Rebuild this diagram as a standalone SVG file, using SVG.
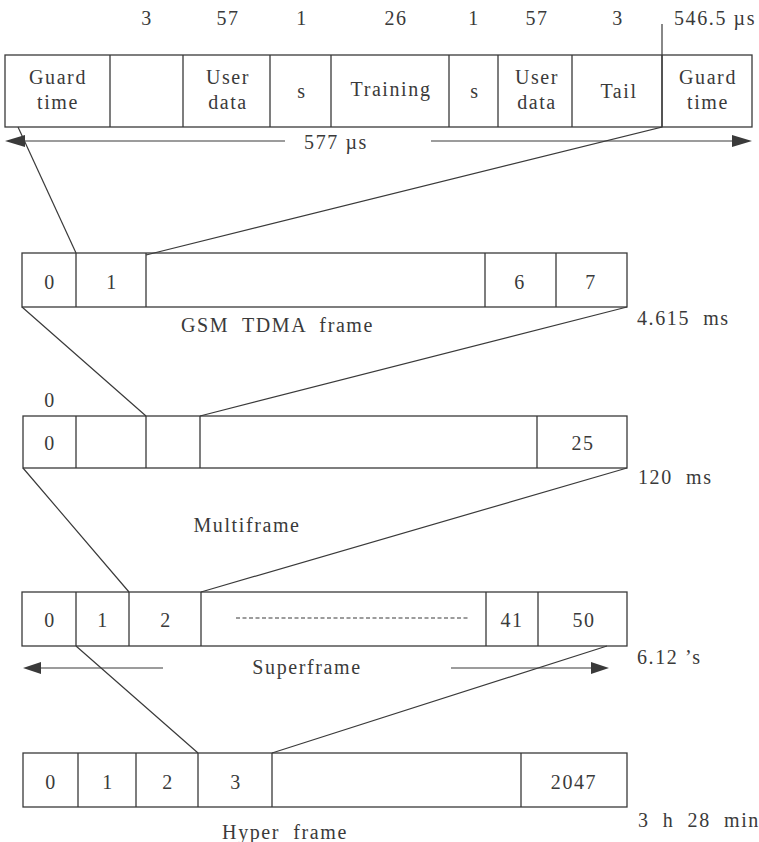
<svg xmlns="http://www.w3.org/2000/svg" width="759" height="842" viewBox="0 0 759 842">
<style>
.b{fill:none;stroke:#3a3a3a;stroke-width:1.3}
.l{fill:none;stroke:#3a3a3a;stroke-width:1.2}
text{font-family:'Liberation Serif','Times New Roman',serif;font-size:20px;fill:#3a3a3a;letter-spacing:1.6px;white-space:pre}
.c{text-anchor:middle}
.ah{fill:#3a3a3a}
</style>
<rect width="759" height="842" fill="#ffffff"/>

<g id="burst" font-family="Liberation Serif, serif">
<rect class="b" x="5" y="55" width="747" height="72"/>
<path class="b" d="M110 55V127M183 55V127M270 55V127M331 55V127M449 55V127M498 55V127M572 55V127M662 55V127"/>
<text class="c" x="58" y="84">Guard</text><text class="c" x="58" y="109">time</text>
<text class="c" x="228" y="84">User</text><text class="c" x="228" y="109">data</text>
<text class="c" x="302" y="98">s</text>
<text class="c" x="391" y="96">Training</text>
<text class="c" x="475" y="98">s</text>
<text class="c" x="537" y="84">User</text><text class="c" x="537" y="109">data</text>
<text class="c" x="619" y="98">Tail</text>
<text class="c" x="708" y="84">Guard</text><text class="c" x="708" y="109">time</text>
<text class="c" x="147" y="25">3</text>
<text class="c" x="228" y="25">57</text>
<text class="c" x="302" y="25">1</text>
<text class="c" x="396" y="25">26</text>
<text class="c" x="474" y="25">1</text>
<text class="c" x="537" y="25">57</text>
<text class="c" x="618" y="25">3</text>
<text x="674" y="25">546.5 µs</text>
<text class="c" x="336" y="149">577 µs</text>
</g>

<g id="tdma">
<rect class="b" x="22" y="253" width="605" height="54"/>
<path class="b" d="M76 253V307M146 253V307M485 253V307M556 253V307"/>
<text class="c" x="50" y="289">0</text>
<text class="c" x="112" y="289">1</text>
<text class="c" x="520" y="289">6</text>
<text class="c" x="591" y="289">7</text>
<text x="181" y="332">GSM  TDMA  frame</text>
<text x="637" y="325">4.615  ms</text>
</g>

<g id="multiframe">
<rect class="b" x="23" y="416" width="604" height="52"/>
<path class="b" d="M76 416V468M146 416V468M200 416V468M537 416V468"/>
<text class="c" x="50" y="407">0</text>
<text class="c" x="50" y="450">0</text>
<text class="c" x="583" y="450">25</text>
<text x="638" y="484">120  ms</text>
<text class="c" x="247" y="532">Multiframe</text>
</g>

<g id="superframe">
<rect class="b" x="22" y="592" width="605" height="54"/>
<path class="b" d="M76 592V646M129 592V646M201 592V646M486 592V646M538 592V646"/>
<text class="c" x="50" y="627">0</text>
<text class="c" x="103" y="627">1</text>
<text class="c" x="166" y="627">2</text>
<text class="c" x="512" y="627">41</text>
<text class="c" x="584" y="627">50</text>
<path class="l" d="M236 618H468" stroke-dasharray="4 2.5"/>
<text class="c" x="307" y="674">Superframe</text>
<text x="637" y="664">6.12 ’s</text>
</g>

<g id="hyperframe">
<rect class="b" x="23" y="753" width="604" height="54"/>
<path class="b" d="M78 753V807M136 753V807M198 753V807M272 753V807M521 753V807"/>
<text class="c" x="51" y="789">0</text>
<text class="c" x="108" y="789">1</text>
<text class="c" x="168" y="789">2</text>
<text class="c" x="236" y="789">3</text>
<text class="c" x="574" y="789">2047</text>
<text x="638" y="827">3  h  28  min</text>
<text class="c" x="285" y="839">Hyper  frame</text>
</g>

<g id="connectors">
<path class="l" d="M25 141H285M431 141H733"/>
<polygon class="ah" points="5,141 25,135 25,147"/>
<polygon class="ah" points="752,141 732,135 732,147"/>
<path class="l" d="M662 24V127L146 255"/>
<path class="l" d="M18 127L76 253"/>
<path class="l" d="M22 307L146 416M627 307L200 416"/>
<path class="l" d="M23 468L129 592M627 468L201 592"/>
<path class="l" d="M40 668H163M451 668H592"/>
<polygon class="ah" points="23,668 41,662 41,674"/>
<polygon class="ah" points="609,668 591,662 591,674"/>
<path class="l" d="M76 646L198 753M607 646L272 753"/>
</g>
</svg>
